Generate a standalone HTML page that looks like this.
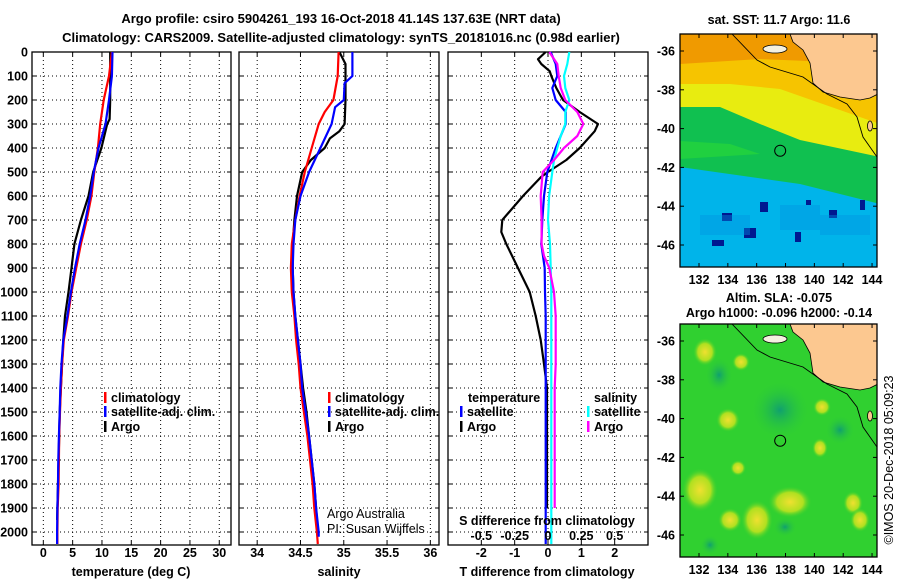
<!DOCTYPE html>
<html><head><meta charset="utf-8">
<style>
html,body{margin:0;padding:0;background:#fff;}
svg{display:block;font-family:"Liberation Sans",Arial,sans-serif;}
.t{font-weight:bold;font-size:13px;fill:#000;}
.tk{font-weight:bold;font-size:12.5px;fill:#000;}
.lg{font-weight:bold;font-size:12.5px;fill:#000;}
</style></head>
<body>
<svg id="fig" width="900" height="580" viewBox="0 0 900 580">
  <text x="341" y="23" text-anchor="middle" class="t" font-size="14">Argo profile: csiro 5904261_193 16-Oct-2018 41.14S 137.63E (NRT data)</text>
  <text x="341" y="42" text-anchor="middle" class="t" font-size="14">Climatology: CARS2009. Satellite-adjusted climatology: synTS_20181016.nc (0.98d earlier)</text>
  <g id="panels"></g>
  <g id="maps"></g>
  <text transform="translate(893,460) rotate(-90)" text-anchor="middle" font-size="12.5">©IMOS 20-Dec-2018 05:09:23</text>
</svg>
<script>
// ---- depth axis data ----
const depthTicks = [0,100,200,300,400,500,600,700,800,900,1000,1100,1200,1300,1400,1500,1600,1700,1800,1900,2000];
// ---- temperature panel ----
const tempTicks = [0,5,10,15,20,25,30];
const tClimDepth = [0,100,200,300,400,500,600,700,800,900,1000,1100,1200,1300,1400,1500,1600,1700,1800,1900,2000,2050];
const tClim = [11.7,11.2,10.3,9.7,9.3,8.7,8.2,7.4,6.4,5.6,4.8,4.2,3.5,3.2,3.0,2.85,2.7,2.65,2.6,2.45,2.4,2.4];
const tSatDepth = [0,100,200,300,400,500,600,700,800,900,1000,1100,1200,1300,1400,1500,1600,1700,1800,1900,2000,2050];
const tSat = [11.8,11.7,11.2,10.6,9.4,8.6,8.0,7.2,6.2,5.4,4.7,4.1,3.4,3.1,2.9,2.8,2.65,2.55,2.5,2.4,2.35,2.35];
const tArgoDepth = [0,100,200,280,300,400,500,600,700,800,900,1000,1100,1200,1300,1400,1500,1600,1700,1800,1900,1950];
const tArgo = [11.4,11.4,11.4,11.3,10.9,9.9,8.5,7.7,6.4,5.3,4.8,4.3,3.7,3.4,3.2,3.0,2.8,2.7,2.6,2.5,2.4,2.35];
// ---- salinity panel ----
const salTicks = [34,34.5,35,35.5,36];
const salTickLabels = ["34","34.5","35","35.5","36"];
const sClimDepth = [0,100,200,250,300,400,500,600,700,800,900,1000,1100,1200,1300,1400,1500,1600,1700,1800,1900,2000,2050];
const sClim = [34.94,34.93,34.88,34.78,34.71,34.63,34.55,34.49,34.44,34.40,34.39,34.40,34.43,34.45,34.48,34.5,34.54,34.58,34.61,34.64,34.66,34.69,34.70];
const sSatDepth = [0,100,130,200,230,300,400,500,600,700,800,900,1000,1100,1200,1300,1400,1500,1600,1700,1800,1900,2000,2020];
const sSat = [35.10,35.10,35.01,35.0,34.9,34.86,34.73,34.60,34.50,34.44,34.42,34.41,34.42,34.44,34.47,34.5,34.52,34.56,34.6,34.63,34.66,34.68,34.71,34.71];
const sArgoDepth = [0,50,100,200,300,330,360,400,450,500,600,700,800,900,1000,1100,1200,1300,1400,1500,1600,1700,1800,1900,1950];
const sArgo = [34.95,35.02,35.02,35.02,35.01,34.95,34.84,34.78,34.62,34.52,34.46,34.43,34.41,34.41,34.42,34.44,34.47,34.5,34.53,34.57,34.6,34.63,34.66,34.68,34.69];
// ---- difference panel ----
const dTTicks = [-2,-1,0,1,2];
const dSTicks = [-0.5,-0.25,0,0.25,0.5];
const dSTickLabels = ["-0.5","-0.25","0","0.25","0.5"];
const dArgoTDepth = [0,30,50,80,100,150,200,250,300,330,400,450,500,520,600,700,750,800,900,1000,1100,1200,1300,1400,1500,1600,1700,1800,1900];
const dArgoT = [-0.07,-0.3,-0.2,0.05,0.1,0.25,0.45,0.95,1.5,1.4,0.95,0.55,0.0,-0.2,-0.75,-1.37,-1.4,-1.25,-0.9,-0.55,-0.37,-0.22,-0.12,-0.03,-0.03,-0.03,-0.03,-0.03,-0.03];
const dSatTDepth = [0,50,100,150,200,250,300,400,500,600,700,800,900,1000,1100,1200,1400,1600,1800,2000,2050];
const dSatT = [0.08,0.23,0.28,0.13,0.23,0.53,0.53,0.23,-0.02,-0.12,-0.17,-0.2,-0.1,-0.09,-0.07,-0.07,-0.07,-0.07,-0.07,-0.07,-0.07];
const dArgoSDepth = [0,50,100,150,200,250,300,350,400,450,500,600,700,800,850,900,1000,1100,1200,1300,1400,1600,1800,1900];
const dArgoS = [0.01,0.07,0.08,0.095,0.13,0.22,0.265,0.22,0.12,0.045,-0.04,-0.055,-0.048,-0.048,-0.03,0.01,0.045,0.058,0.058,0.058,0.05,0.05,0.05,0.05];
const dSatSDepth = [0,50,100,150,200,250,300,350,400,450,500,600,700,800,900,1000,1200,1400,1600,1800,2000,2050];
const dSatS = [0.16,0.145,0.12,0.13,0.16,0.13,0.13,0.095,0.07,0.045,0.032,0.008,0.0,0.015,0.02,0.025,0.025,0.025,0.025,0.025,0.025,0.025];

const NS = "http://www.w3.org/2000/svg";
function el(tag, attrs, parent){const e=document.createElementNS(NS,tag);for(const k in attrs)e.setAttribute(k,attrs[k]);parent.appendChild(e);return e;}
const TOP=52, BOT=545;
const yD = d => TOP + d*0.24;

function panel(g, x0, x1, xmin, xmax, name){
  const sx = v => x0 + (v-xmin)/(xmax-xmin)*(x1-x0);
  const frame = el('g',{},g);
  
  
  return {sx, frame};
}
function gridAndFrame(p, x0, x1, xticks, name, drawYLabels){
  const g = p.frame;
  depthTicks.forEach(d=>{
    const y=yD(d);
    const l=el('line',{x1:x0,x2:x1,y1:y,y2:y,stroke:'#000','stroke-width':1,'stroke-dasharray':'1,3'},g);
    
    
    el('line',{x1:x0,x2:x0+4,y1:y,y2:y,stroke:'#000'},g);
    el('line',{x1:x1-4,x2:x1,y1:y,y2:y,stroke:'#000'},g);
    if(drawYLabels){
      const t=el('text',{x:x0-4,y:y+4.5,'text-anchor':'end',class:'tk'},g);
      t.textContent=d;
      
      
    }
  });
  xticks.forEach(v=>{
    const x=p.sx(v);
    const l=el('line',{x1:x,x2:x,y1:TOP,y2:BOT,stroke:'#000','stroke-width':1,'stroke-dasharray':'1,3'},g);
    
    
    el('line',{x1:x,x2:x,y1:BOT,y2:BOT-4,stroke:'#000'},g);
    el('line',{x1:x,x2:x,y1:TOP,y2:TOP+4,stroke:'#000'},g);
  });
  const r=el('rect',{x:x0,y:TOP,width:x1-x0,height:BOT-TOP,fill:'none',stroke:'#000','stroke-width':1.3},g);
  
  
}
function line(g, xs, ds, sx, color, name, w){
  const pts = xs.map((v,i)=>sx(v).toFixed(1)+','+yD(ds[i]).toFixed(1)).join(' ');
  const pl = el('polyline',{points:pts,fill:'none',stroke:color,'stroke-width':w||2.2,'stroke-linejoin':'round'},g);
  
  
}
function txt(g, x, y, s, cls, anchor, name){
  const t=el('text',{x:x,y:y,class:cls,'text-anchor':anchor||'start'},g);
  t.textContent=s;
  
  
  return t;
}
function legendEntry(g,x,y,color,label){
  const b=el('rect',{x:x,y:y-10,width:2.5,height:11,fill:color},g);
  
  
  txt(g,x+7,y,label,'lg','start','legend-entry');
}
const root=document.getElementById('panels');

// Panel 1 temperature
const p1=panel(root,32,231,-1.93,32,'temperature');
gridAndFrame(p1,32,231,tempTicks,'temperature',true);
tempTicks.forEach(v=>txt(p1.frame,p1.sx(v),557,String(v),'tk','middle','temperature-tick-label'));
txt(p1.frame,131,576,'temperature (deg C)','tk','middle','temperature-axis-title');
line(p1.frame,tArgo,tArgoDepth,p1.sx,'#000','temperature-argo-line');
line(p1.frame,tClim,tClimDepth,p1.sx,'#f00','temperature-climatology-line');
line(p1.frame,tSat,tSatDepth,p1.sx,'#00f','temperature-satellite-line');
legendEntry(p1.frame,104,402,'#f00','climatology');
legendEntry(p1.frame,104,416,'#00f','satellite-adj. clim.');
legendEntry(p1.frame,104,431,'#000','Argo');

// Panel 2 salinity
const p2=panel(root,239,439,33.79,36.1,'salinity');
gridAndFrame(p2,239,439,salTicks,'salinity',false);
salTicks.forEach((v,i)=>txt(p2.frame,p2.sx(v),557,salTickLabels[i],'tk','middle','salinity-tick-label'));
txt(p2.frame,339,576,'salinity','tk','middle','salinity-axis-title');
line(p2.frame,sArgo,sArgoDepth,p2.sx,'#000','salinity-argo-line');
line(p2.frame,sClim,sClimDepth,p2.sx,'#f00','salinity-climatology-line');
line(p2.frame,sSat,sSatDepth,p2.sx,'#00f','salinity-satellite-line');
legendEntry(p2.frame,328,402,'#f00','climatology');
legendEntry(p2.frame,328,416,'#00f','satellite-adj. clim.');
legendEntry(p2.frame,328,431,'#000','Argo');
const c1=txt(p2.frame,327,518,'Argo Australia','','start','credit-argo-australia'); c1.setAttribute('font-size','12.5');
const c2=txt(p2.frame,327,533,'PI: Susan Wijffels','','start','credit-pi'); c2.setAttribute('font-size','12.5');

// Panel 3 differences
const p3=panel(root,448,648,-3,3,'difference');
const sxS = v => p3.sx(v*4);
gridAndFrame(p3,448,648,dTTicks,'difference',false);
dTTicks.forEach(v=>txt(p3.frame,p3.sx(v),557,String(v),'tk','middle','t-difference-tick-label'));
txt(p3.frame,547,576,'T difference from climatology','tk','middle','t-difference-axis-title');
line(p3.frame,dArgoT,dArgoTDepth,p3.sx,'#000','t-difference-argo-line');
line(p3.frame,dSatT,dSatTDepth,p3.sx,'#00f','t-difference-satellite-line');
line(p3.frame,dSatS,dSatSDepth,sxS,'#0ff','s-difference-satellite-line');
line(p3.frame,dArgoS,dArgoSDepth,sxS,'#f0f','s-difference-argo-line');
txt(p3.frame,547,525,'S difference from climatology','tk','middle','s-difference-axis-title');
dSTicks.forEach((v,i)=>txt(p3.frame,sxS(v),540,dSTickLabels[i],'tk','middle','s-difference-tick-label'));
txt(p3.frame,468,402,'temperature','lg','start','legend-title-temperature');
legendEntry(p3.frame,460,416,'#00f','satellite');
legendEntry(p3.frame,460,431,'#000','Argo');
txt(p3.frame,594,402,'salinity','lg','start','legend-title-salinity');
legendEntry(p3.frame,587,416,'#0ff','satellite');
legendEntry(p3.frame,587,431,'#f0f','Argo');

// ---- maps ----
const mapLatTicks=[-36,-38,-40,-42,-44,-46];
const mapLonTicks=[132,134,136,138,140,142,144];
const argoLon=137.63, argoLat=-41.14;
const mroot=document.getElementById('maps');
function lonX(l){return 699+(l-132)*14.42;}
function makeMap(top, name, fillFn){
  const g=el('g',{},mroot);
  
  
  const x0=680,x1=877,y0=top,y1=top+233;
  const latY = l => y0+17+(-36-l)*19.4;
  const cid='clip'+top;
  const cp=el('clipPath',{id:cid},g); el('rect',{x:x0,y:y0,width:x1-x0,height:y1-y0},cp);
  const inner=el('g',{'clip-path':'url(#'+cid+')'},g);
  fillFn(inner,x0,y0);
  const land=el('polygon',{points:[[790,0],[793,8],[803,16],[810,29],[813,49],[823,58],[840,63],[860,66],[870,64],[880,59],[880,0]].map(p=>p[0]+','+(p[1]+y0)).join(' '),fill:'#fcc890',stroke:'#000','stroke-width':0.8},inner);
  
  
  el('ellipse',{cx:775,cy:y0+15,rx:12,ry:4,fill:'#f4f0e0',stroke:'#000','stroke-width':0.8},inner);
  el('ellipse',{cx:870,cy:y0+92,rx:2.5,ry:5,fill:'#fcc890',stroke:'#000','stroke-width':0.8},inner);
  el('polyline',{points:[[732,0],[757,26],[770,33],[803,43],[827,60],[847,70],[857,83],[863,103],[877,123]].map(p=>p[0]+','+(p[1]+y0)).join(' '),fill:'none',stroke:'#000','stroke-width':0.9},inner);
  const c=el('circle',{cx:lonX(argoLon),cy:latY(argoLat),r:5.5,fill:'none',stroke:'#000','stroke-width':1},g);
  
  
  el('rect',{x:x0,y:y0,width:x1-x0,height:y1-y0,fill:'none',stroke:'#000','stroke-width':1.3},g);
  mapLatTicks.forEach(l=>{const y=latY(l);
    el('line',{x1:x0,x2:x0+4,y1:y,y2:y,stroke:'#000'},g);el('line',{x1:x1-4,x2:x1,y1:y,y2:y,stroke:'#000'},g);
    txt(g,675,y+4.5,String(l),'tk','end','map-lat-tick-label');});
  mapLonTicks.forEach(l=>{const x=lonX(l);
    el('line',{x1:x,x2:x,y1:y1,y2:y1-4,stroke:'#000'},g);el('line',{x1:x,x2:x,y1:y0,y2:y0+4,stroke:'#000'},g);
    txt(g,x,y1+17,String(l),'tk','middle','map-lon-tick-label');});
  return g;
}
makeMap(34,'sst-map',(g,x0,y0)=>{
  el('rect',{x:x0,y:y0,width:200,height:240,fill:'#00b4ea'},g);
  el('polygon',{points:`680,${y0} 880,${y0} 880,${y0+170} 800,${y0+150} 680,${y0+133}`,fill:'#10c050'},g);
  el('polygon',{points:`680,${y0} 880,${y0} 880,${y0+123} 800,${y0+106} 760,${y0+90} 720,${y0+73} 680,${y0+73}`,fill:'#e8ec10'},g);
  el('polygon',{points:`680,${y0} 880,${y0} 880,${y0+90} 780,${y0+55} 730,${y0+50} 680,${y0+50}`,fill:'#f6c400'},g);
  el('polygon',{points:`680,${y0} 880,${y0} 880,${y0+30} 760,${y0+25} 680,${y0+30}`,fill:'#f09a00'},g);
  el('polygon',{points:`680,${y0+107} 730,${y0+110} 760,${y0+120} 680,${y0+125}`,fill:'#20d040'},g);
  [[722,213,10,8],[744,228,12,10],[760,202,8,10],[795,232,6,10],[829,210,8,8],[806,200,5,5],[712,240,12,6],[860,200,5,10]].forEach(r=>el('rect',{x:r[0],y:r[1],width:r[2],height:r[3],fill:'#001890'},g));
  [[700,215,50,20],[780,205,40,25],[820,215,50,20]].forEach(r=>el('rect',{x:r[0],y:r[1],width:r[2],height:r[3],fill:'#0090e0',opacity:0.4},g));
});
makeMap(324,'sla-map',(g,x0,y0)=>{
  el('rect',{x:x0,y:y0,width:200,height:240,fill:'#30d030'},g);
  const d=el('defs',{},g);
  const rg=el('radialGradient',{id:'yb'},d);
  el('stop',{offset:'0','stop-color':'#f0e030'},rg);el('stop',{offset:'0.6','stop-color':'#b0e020'},rg);el('stop',{offset:'1','stop-color':'#30d030','stop-opacity':0},rg);
  const dg=el('radialGradient',{id:'db'},d);
  el('stop',{offset:'0','stop-color':'#10a070'},dg);el('stop',{offset:'1','stop-color':'#30d030','stop-opacity':0},dg);
  [[705,62,12,14],[741,72,9,9],[728,130,12,12],[822,117,9,9],[820,158,8,10],[738,178,8,8],[700,200,18,22],[790,212,22,16],[757,230,16,20],[853,213,10,12],[860,230,10,12],[730,230,12,12]].forEach(e=>el('ellipse',{cx:e[0],cy:e[1]+y0-34,rx:e[2],ry:e[3],fill:'url(#yb)'},g));
  [[719,85,14,18],[780,120,30,30],[785,237,12,10],[710,255,10,10],[840,140,15,15]].forEach(e=>el('ellipse',{cx:e[0],cy:e[1]+y0-34,rx:e[2],ry:e[3],fill:'url(#db)'},g));
});
txt(mroot,779,24,'sat. SST: 11.7 Argo: 11.6','tk','middle','sst-map-title');
txt(mroot,779,302,'Altim. SLA: -0.075','tk','middle','sla-map-title');
txt(mroot,779,317,'Argo h1000: -0.096 h2000: -0.14','tk','middle','sla-map-subtitle');
</script>
</body></html>
